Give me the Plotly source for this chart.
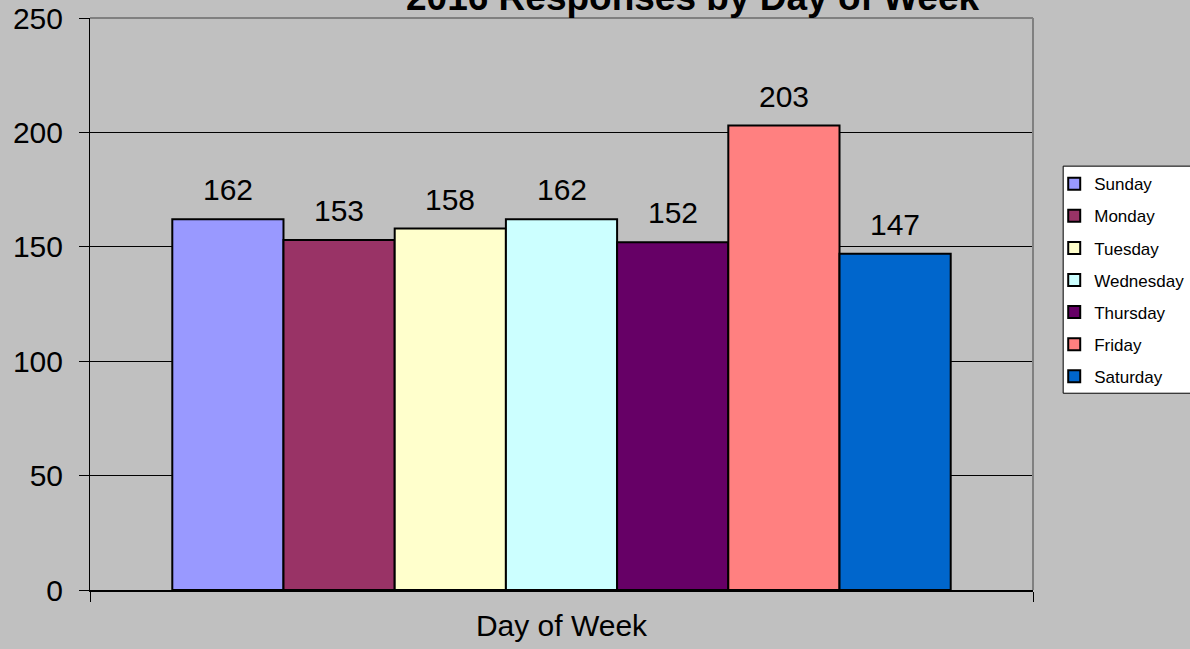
import plotly.graph_objects as go

days = ["Sunday", "Monday", "Tuesday", "Wednesday", "Thursday", "Friday", "Saturday"]
responses = [162, 153, 158, 162, 152, 203, 147]
colors = ["#9999FF", "#993366", "#FFFFCC", "#CCFFFF", "#660066", "#FF8080", "#0066CC"]
y_ticks = [0, 50, 100, 150, 200, 250]
chart_title = "2016 Responses by Day of Week"
x_title = "Day of Week"

FONT = "Liberation Sans, Arial, sans-serif"
x_range = [-1.24, 7.24]

fig = go.Figure()
for i, (d, v, c) in enumerate(zip(days, responses, colors)):
    fig.add_trace(go.Bar(
        x=[i], y=[v], name=d, width=1, legendgroup=d,
        marker=dict(color=c, line=dict(color="black", width=2)),
    ))
    fig.add_annotation(x=i, y=v, text=str(v), showarrow=False,
                       yanchor="bottom", yshift=11,
                       font=dict(size=30, color="black", family=FONT))

fig.add_annotation(x=0.639, y=1, xref="paper", yref="paper", text="<b>" + chart_title + "</b>",
                   showarrow=False, yanchor="bottom", xanchor="center", yshift=-2,
                   font=dict(size=37, color="black", family=FONT))

# plot-area border (top and right, grey)
fig.add_shape(type="line", xref="paper", yref="paper", x0=0, x1=1, y0=1, y1=1,
              line=dict(color="#808080", width=2), layer="above")
fig.add_shape(type="line", xref="paper", yref="paper", x0=1, x1=1, y0=0, y1=1,
              line=dict(color="#808080", width=2), layer="above")
# legend box
fig.add_shape(type="rect", xref="paper", yref="paper", x0=1.032, x1=1.18, y0=0.344, y1=0.741,
              line=dict(color="black", width=1), fillcolor="white", layer="above")

fig.update_layout(
    width=1190, height=649,
    margin=dict(l=90, r=157, t=18, b=59, autoexpand=False),
    paper_bgcolor="#C0C0C0", plot_bgcolor="#C0C0C0",
    font=dict(family=FONT, color="black"),
    showlegend=True,
    legend=dict(x=1.0225, y=0.741, xanchor="left", yanchor="top",
                bgcolor="rgba(0,0,0,0)", borderwidth=0,
                font=dict(size=17, color="black", family=FONT),
                tracegroupgap=7, traceorder="grouped"),
    xaxis=dict(range=x_range, tickmode="array", tickvals=x_range, ticktext=["", ""],
               ticks="outside", ticklen=10, tickcolor="black", tickwidth=1,
               showgrid=False, zeroline=False, showline=True, linecolor="black", linewidth=2,
               title=dict(text=x_title, font=dict(size=30, color="black", family=FONT), standoff=12),
               fixedrange=True),
    yaxis=dict(range=[0, 250], tickmode="array", tickvals=y_ticks,
               ticks="outside", ticklen=10, tickcolor="black", tickwidth=1,
               tickfont=dict(size=30, color="black", family=FONT), ticklabelstandoff=10,
               showgrid=True, gridcolor="black", gridwidth=1,
               zeroline=False, showline=True, linecolor="black", linewidth=1,
               fixedrange=True),
)

fig.write_html("out.html", config={"displayModeBar": False},
               post_script="document.body.style.margin='0';document.body.style.overflow='hidden';")
